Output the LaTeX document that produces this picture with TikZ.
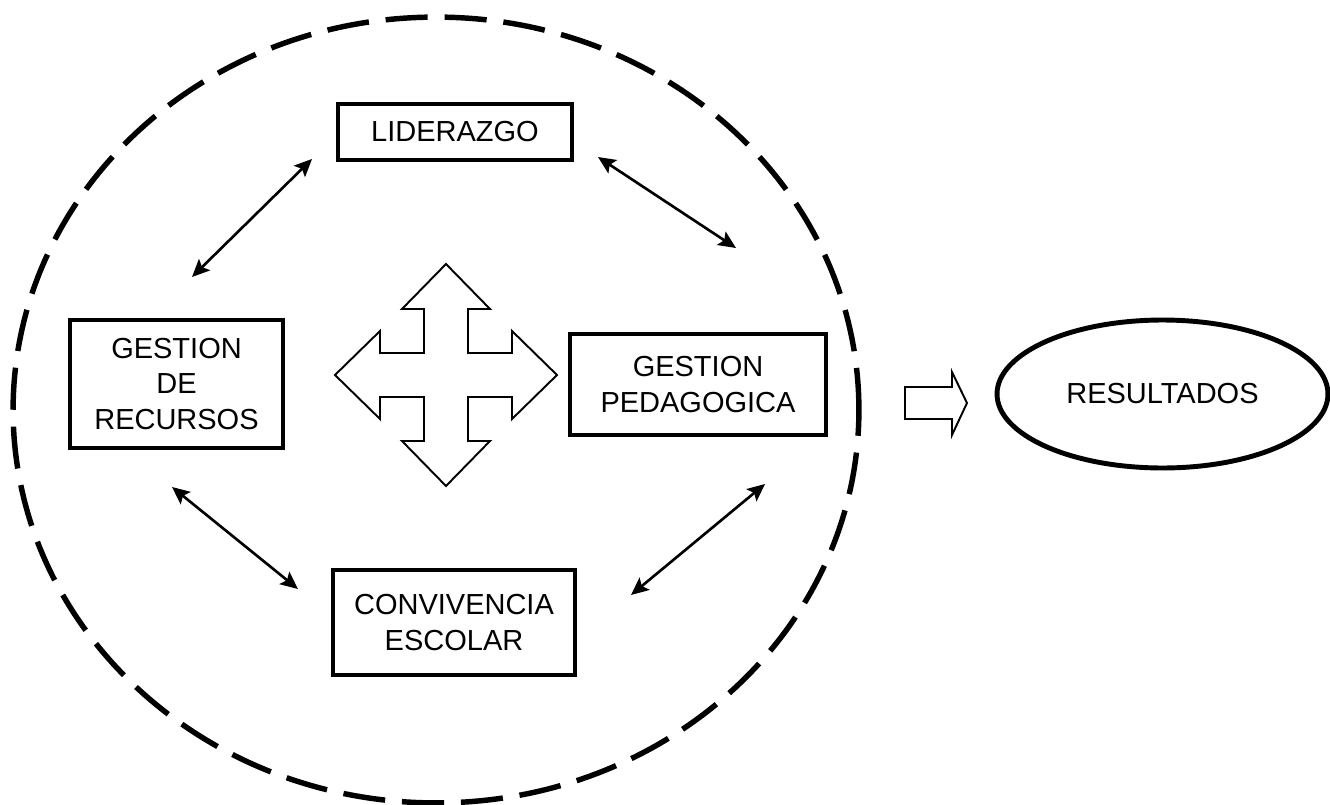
\documentclass[tikz,border=0pt]{standalone}
\usepackage{fontspec}
\setmainfont{Liberation Sans}
\usetikzlibrary{shapes.geometric,arrows.meta}
\begin{document}
\begin{tikzpicture}[x=0.02cm,y=-0.02cm,
  box/.style={draw,line width=2.8pt,rectangle,inner sep=0pt,align=center,font=\fontsize{16.5}{20}\selectfont},
  dbl/.style={line width=1.5pt,{Stealth[length=10pt,width=9pt,inset=2pt]}-{Stealth[length=10pt,width=9pt,inset=2pt]}},
  outline/.style={draw,line width=1.1pt,line join=miter,fill=white}]
\useasboundingbox (0,0) rectangle (1330,805);
\node[ellipse,draw,line width=3.1pt,dash pattern=on 24pt off 9.6pt,minimum width=16.92cm,minimum height=15.72cm,inner sep=0pt] (circ) at (436,410) {};
\node[box,minimum width=4.68cm,minimum height=1.12cm] (lid) at (455,132) {LIDERAZGO};
\node[box,minimum width=4.26cm,minimum height=2.56cm] (rec) at (176.5,384) {\raisebox{0pt}[0pt][0pt]{}GESTION\\DE\\RECURSOS};
\node[box,minimum width=5.12cm,minimum height=2.02cm] (ped) at (698,384.5) {GESTION\\PEDAGOGICA};
\node[box,minimum width=4.84cm,minimum height=2.10cm] (con) at (454,622.5) {CONVIVENCIA\\ESCOLAR};
\node[ellipse,draw,line width=2.8pt,inner sep=0pt,minimum width=6.62cm,minimum height=2.96cm,font=\fontsize{16.5}{20}\selectfont] (res) at (1162.5,394) {RESULTADOS};
\coordinate (a1) at (192,277); \coordinate (a2) at (312,159);
\coordinate (b1) at (598,157); \coordinate (b2) at (736,248);
\coordinate (c1) at (172,487); \coordinate (c2) at (298,589);
\coordinate (d1) at (631,595); \coordinate (d2) at (765,484);
\draw[dbl] (a1) -- (a2);
\draw[dbl] (b1) -- (b2);
\draw[dbl] (c1) -- (c2);
\draw[dbl] (d1) -- (d2);
\draw[outline,shift={(446,375)}] (0,-111) -- (44,-66) -- (22,-66) -- (22,-22) -- (66,-22) -- (66,-44) -- (111,0) -- (66,44) -- (66,22) -- (22,22) -- (22,66) -- (44,66) -- (0,111) -- (-44,66) -- (-22,66) -- (-22,22) -- (-66,22) -- (-66,44) -- (-111,0) -- (-66,-44) -- (-66,-22) -- (-22,-22) -- (-22,-66) -- (-44,-66) -- cycle;
\draw[outline] (905,387) -- (952,387) -- (952,372) -- (967,403) -- (952,435) -- (952,419) -- (905,419) -- cycle;
\end{tikzpicture}
\end{document}
